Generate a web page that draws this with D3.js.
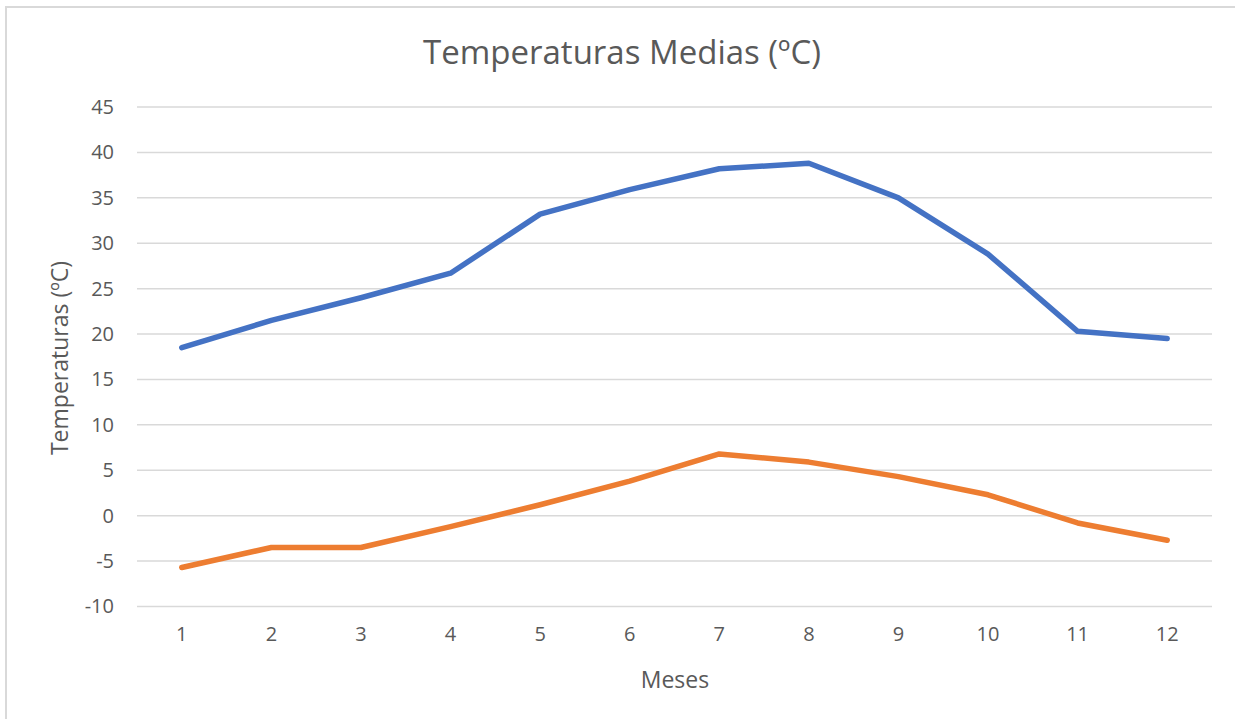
<!DOCTYPE html>
<html>
<head>
<meta charset="utf-8">
<script src="https://cdn.jsdelivr.net/npm/d3@7"></script>
<style>
  body { margin: 0; background: #fff; overflow: hidden; }
  text { font-family: "Open Sans", "Noto Sans", sans-serif; fill: #595959; }
</style>
</head>
<body>
<svg id="chart" width="1235" height="719"></svg>
<script>
"use strict";

// data
var meses = ["1", "2", "3", "4", "5", "6", "7", "8", "9", "10", "11", "12"];
var maximas = [18.5, 21.5, 24.0, 26.7, 33.2, 35.9, 38.2, 38.8, 35.0, 28.8, 20.3, 19.5];
var minimas = [-5.7, -3.5, -3.5, -1.2, 1.2, 3.8, 6.8, 5.9, 4.3, 2.3, -0.8, -2.7];
var yTicks = [-10, -5, 0, 5, 10, 15, 20, 25, 30, 35, 40, 45];

var svg = d3.select("#chart");
var width = +svg.attr("width"),
    height = +svg.attr("height");

// chart frame (right and bottom edges run off the picture)
svg.append("rect")
  .attr("x", 6).attr("y", 7)
  .attr("width", width + 20).attr("height", height + 20)
  .attr("fill", "#fff")
  .attr("stroke", "#d9d9d9")
  .attr("stroke-width", 2);

var plot = { left: 137, right: 1212, top: 107, bottom: 606.5 };

var x = d3.scaleBand()
  .domain(meses)
  .range([plot.left, plot.right]);

var y = d3.scaleLinear()
  .domain([-10, 45])
  .range([plot.bottom, plot.top]);

// gridlines
svg.append("g")
  .selectAll("line")
  .data(yTicks)
  .enter().append("line")
    .attr("x1", plot.left)
    .attr("x2", plot.right)
    .attr("y1", function(d) { return y(d); })
    .attr("y2", function(d) { return y(d); })
    .attr("stroke", "#d9d9d9")
    .attr("stroke-width", 1.5);

// y axis labels (plain hyphen for negatives, like the original)
var yAxis = svg.append("g")
  .attr("transform", "translate(" + (plot.left - 23) + ",0)")
  .call(d3.axisLeft(y).tickValues(yTicks).tickSize(0).tickPadding(0)
    .tickFormat(function(d) { return String(d); }));
yAxis.select(".domain").remove();
yAxis.selectAll("text")
  .style("font-size", "20px")
  .attr("fill", "#595959");

// x axis labels
var xAxis = svg.append("g")
  .attr("transform", "translate(0," + (plot.bottom + 20) + ")")
  .call(d3.axisBottom(x).tickSize(0).tickPadding(0));
xAxis.select(".domain").remove();
xAxis.selectAll("text")
  .style("font-size", "20px")
  .attr("fill", "#595959");

// lines
var line = d3.line()
  .x(function(d, i) { return x(meses[i]) + x.bandwidth() / 2; })
  .y(function(d) { return y(d); });

[[maximas, "#4472c4"], [minimas, "#ed7d31"]].forEach(function(s) {
  svg.append("path")
    .datum(s[0])
    .attr("d", line)
    .attr("fill", "none")
    .attr("stroke", s[1])
    .attr("stroke-width", 5.5)
    .attr("stroke-linejoin", "round")
    .attr("stroke-linecap", "round");
});

// title and axis titles
svg.append("text")
  .attr("x", 622).attr("y", 64)
  .attr("text-anchor", "middle")
  .style("font-size", "33px")
  .text("Temperaturas Medias (ºC)");

svg.append("text")
  .attr("x", 675).attr("y", 688)
  .attr("text-anchor", "middle")
  .style("font-size", "23px")
  .text("Meses");

svg.append("text")
  .attr("transform", "translate(68," + 358 + ") rotate(-90)")
  .attr("text-anchor", "middle")
  .style("font-size", "23px")
  .text("Temperaturas (ºC)");
</script>
</body>
</html>
